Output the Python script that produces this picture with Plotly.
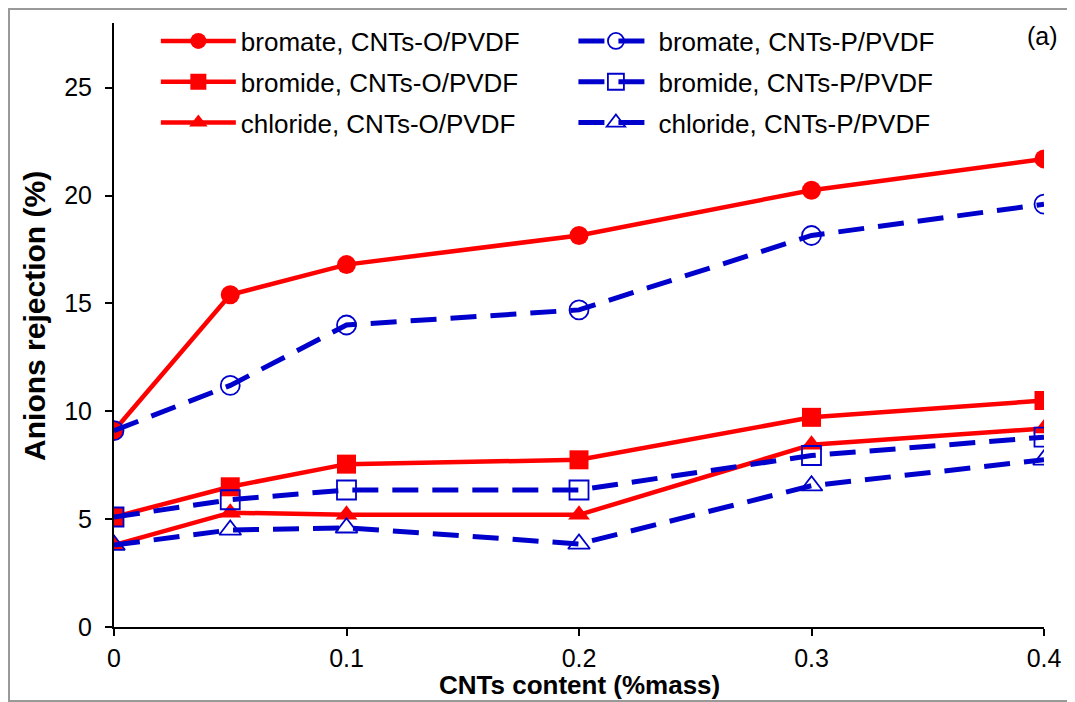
import plotly.graph_objects as go

x_content = [0, 0.05, 0.1, 0.2, 0.3, 0.4]

bromate_O = [9.1, 15.4, 16.8, 18.15, 20.25, 21.7]
bromide_O = [5.1, 6.5, 7.55, 7.75, 9.72, 10.5]
chloride_O = [3.8, 5.3, 5.2, 5.2, 8.45, 9.2]

bromate_P = [9.1, 11.2, 14.0, 14.7, 18.15, 19.6]
bromide_P = [5.1, 5.9, 6.35, 6.35, 7.95, 8.8]
chloride_P = [3.8, 4.5, 4.6, 3.85, 6.55, 7.75]

x_ticks = [0, 0.1, 0.2, 0.3, 0.4]
x_tick_labels = ["0", "0.1", "0.2", "0.3", "0.4"]
y_ticks = [0, 5, 10, 15, 20, 25]

RED = "#FF0000"
BLUE = "#0000CC"
FONT = "Liberation Sans, Arial, sans-serif"

fig = go.Figure()

o_series = [
    ("bromate, CNTs-O/PVDF", bromate_O, "circle"),
    ("bromide, CNTs-O/PVDF", bromide_O, "square"),
    ("chloride, CNTs-O/PVDF", chloride_O, "triangle-up"),
]
p_series = [
    ("bromate, CNTs-P/PVDF", bromate_P, "circle-open"),
    ("bromide, CNTs-P/PVDF", bromide_P, "square-open"),
    ("chloride, CNTs-P/PVDF", chloride_P, "triangle-up-open"),
]

for i, (name, vals, sym) in enumerate(o_series):
    fig.add_trace(go.Scatter(
        x=x_content, y=vals, name=name, mode="lines+markers",
        line=dict(color=RED, width=4.5),
        marker=dict(symbol=sym, size=19, color=RED, line=dict(width=0)),
        legend="legend", legendgroup="o%d" % i,
    ))

for i, (name, vals, sym) in enumerate(p_series):
    fig.add_trace(go.Scatter(
        x=x_content, y=vals, name=name, mode="lines+markers",
        line=dict(color=BLUE, width=5, dash="26px,14px"),
        marker=dict(symbol=sym, size=19, color=BLUE, line=dict(width=1.8, color=BLUE)),
        legend="legend2", legendgroup="p%d" % i,
    ))

legend_common = dict(
    font=dict(family=FONT, size=26, color="black"),
    bgcolor="rgba(0,0,0,0)",
    tracegroupgap=4,
    itemwidth=75,
    xanchor="left", yanchor="top",
)

fig.update_layout(
    width=1067, height=694,
    margin=dict(l=106, r=31, t=15, b=75, autoexpand=False),
    paper_bgcolor="white", plot_bgcolor="white",
    font=dict(family=FONT, size=25, color="black"),
    legend=dict(x=0.045, y=1.009, **legend_common),
    legend2=dict(x=0.494, y=1.009, **legend_common),
    xaxis=dict(
        range=[0, 0.4], tickvals=x_ticks, ticktext=x_tick_labels,
        showgrid=False, zeroline=False, automargin=False,
        showline=True, linecolor="black", linewidth=2,
        ticks="outside", ticklen=7, tickwidth=1.5, tickcolor="black",
        tickfont=dict(family=FONT, size=25), ticklabelstandoff=1,
    ),
    yaxis=dict(
        range=[0, 28], tickvals=y_ticks,
        showgrid=False, zeroline=False, automargin=False,
        showline=True, linecolor="black", linewidth=2,
        ticks="outside", ticklen=7, tickwidth=1.5, tickcolor="black",
        tickfont=dict(family=FONT, size=25), ticklabelstandoff=8,
    ),
    annotations=[
        dict(
            text="(a)", xref="paper", yref="paper", x=0.998, y=0.978,
            xanchor="center", yanchor="middle", showarrow=False,
            font=dict(family=FONT, size=25, color="black"),
        ),
        dict(
            text="<b>CNTs content (%mass)</b>", xref="paper", yref="paper",
            x=0.5, y=-0.096, xanchor="center", yanchor="middle", showarrow=False,
            font=dict(family=FONT, size=26, color="black"),
        ),
        dict(
            text="<b>Anions rejection (%)</b>", xref="paper", yref="paper",
            x=-0.085, y=0.515, xanchor="center", yanchor="middle", showarrow=False,
            textangle=-90, font=dict(family=FONT, size=30, color="black"),
        ),
    ],
    shapes=[dict(
        type="rect", xref="paper", yref="paper",
        x0=-0.1129, x1=1.04, y0=-0.1225, y1=1.0232,
        line=dict(color="#999999", width=2), layer="below",
    )],
)

fig.write_html("out.html")
